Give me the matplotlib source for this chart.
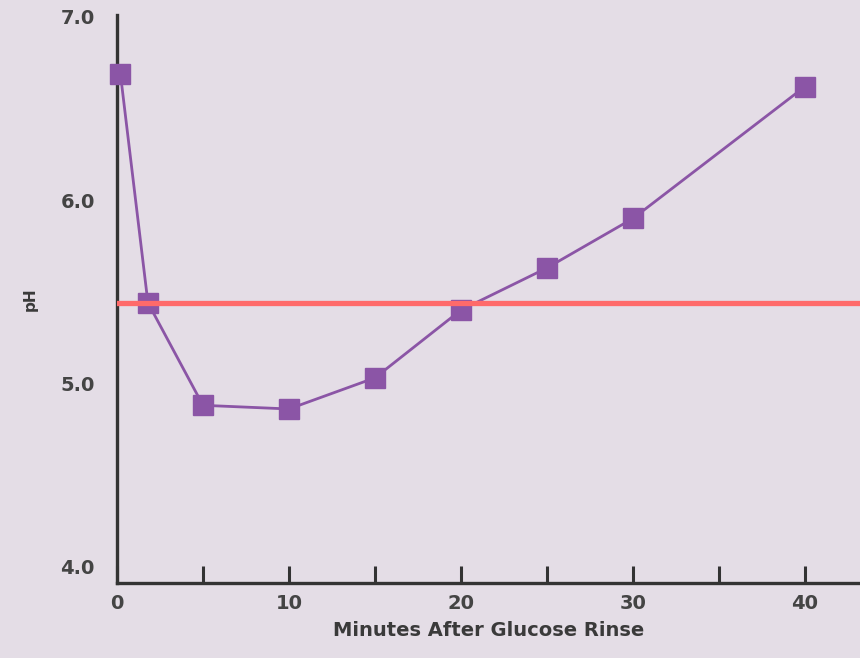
import matplotlib.pyplot as plt

# Dados: pH da placa após enxágue com glicose
minutes = [0.2, 1.8, 5, 10, 15, 20, 25, 30, 40]
ph = [6.69, 5.44, 4.88, 4.86, 5.03, 5.40, 5.63, 5.90, 6.62]
critical_ph = 5.44

x_major = [0, 10, 20, 30, 40]
x_minor = [5, 15, 25, 35]
y_ticks = [4.0, 5.0, 6.0, 7.0]

bg = '#e4dde6'
dark = '#333333'
purple = '#8b55a6'

fig = plt.figure(figsize=(8.6, 6.58), dpi=100, facecolor=bg)
ax = fig.add_axes([0.136, 0.114, 0.864, 0.863], facecolor=bg)

ax.plot(minutes, ph, color=purple, linewidth=2, marker='s', markersize=14,
        markerfacecolor=purple, markeredgecolor=purple, zorder=3, clip_on=False)
ax.axhline(critical_ph, color='#ff6a6a', linewidth=3.8, zorder=4)

ax.set_xlim(0, 43.2)
ax.set_ylim(3.91, 7.01)

ax.spines['top'].set_visible(False)
ax.spines['right'].set_visible(False)
for s in ('left', 'bottom'):
    ax.spines[s].set_color(dark)
    ax.spines[s].set_linewidth(2.4)

ax.set_xticks(x_major)
ax.set_xticks(x_minor, minor=True)
ax.set_yticks(y_ticks)
ax.set_yticklabels([f'{v:.1f}' for v in y_ticks])
ax.tick_params(axis='x', which='both', direction='in', length=12, width=2.2,
               color=dark, labelsize=14, labelcolor='#444444', pad=8)
ax.tick_params(axis='y', length=0, labelsize=14, labelcolor='#444444', pad=16)
for lbl in ax.get_xticklabels() + ax.get_yticklabels():
    lbl.set_fontweight('semibold')

ax.set_xlabel('Minutes After Glucose Rinse', fontsize=14, fontweight='bold',
              color='#3a3a3a', labelpad=6)
ax.set_ylabel('pH', fontsize=11, fontweight='bold', color='#3a3a3a', labelpad=16)

plt.savefig('out.png', dpi=100, facecolor=bg)
